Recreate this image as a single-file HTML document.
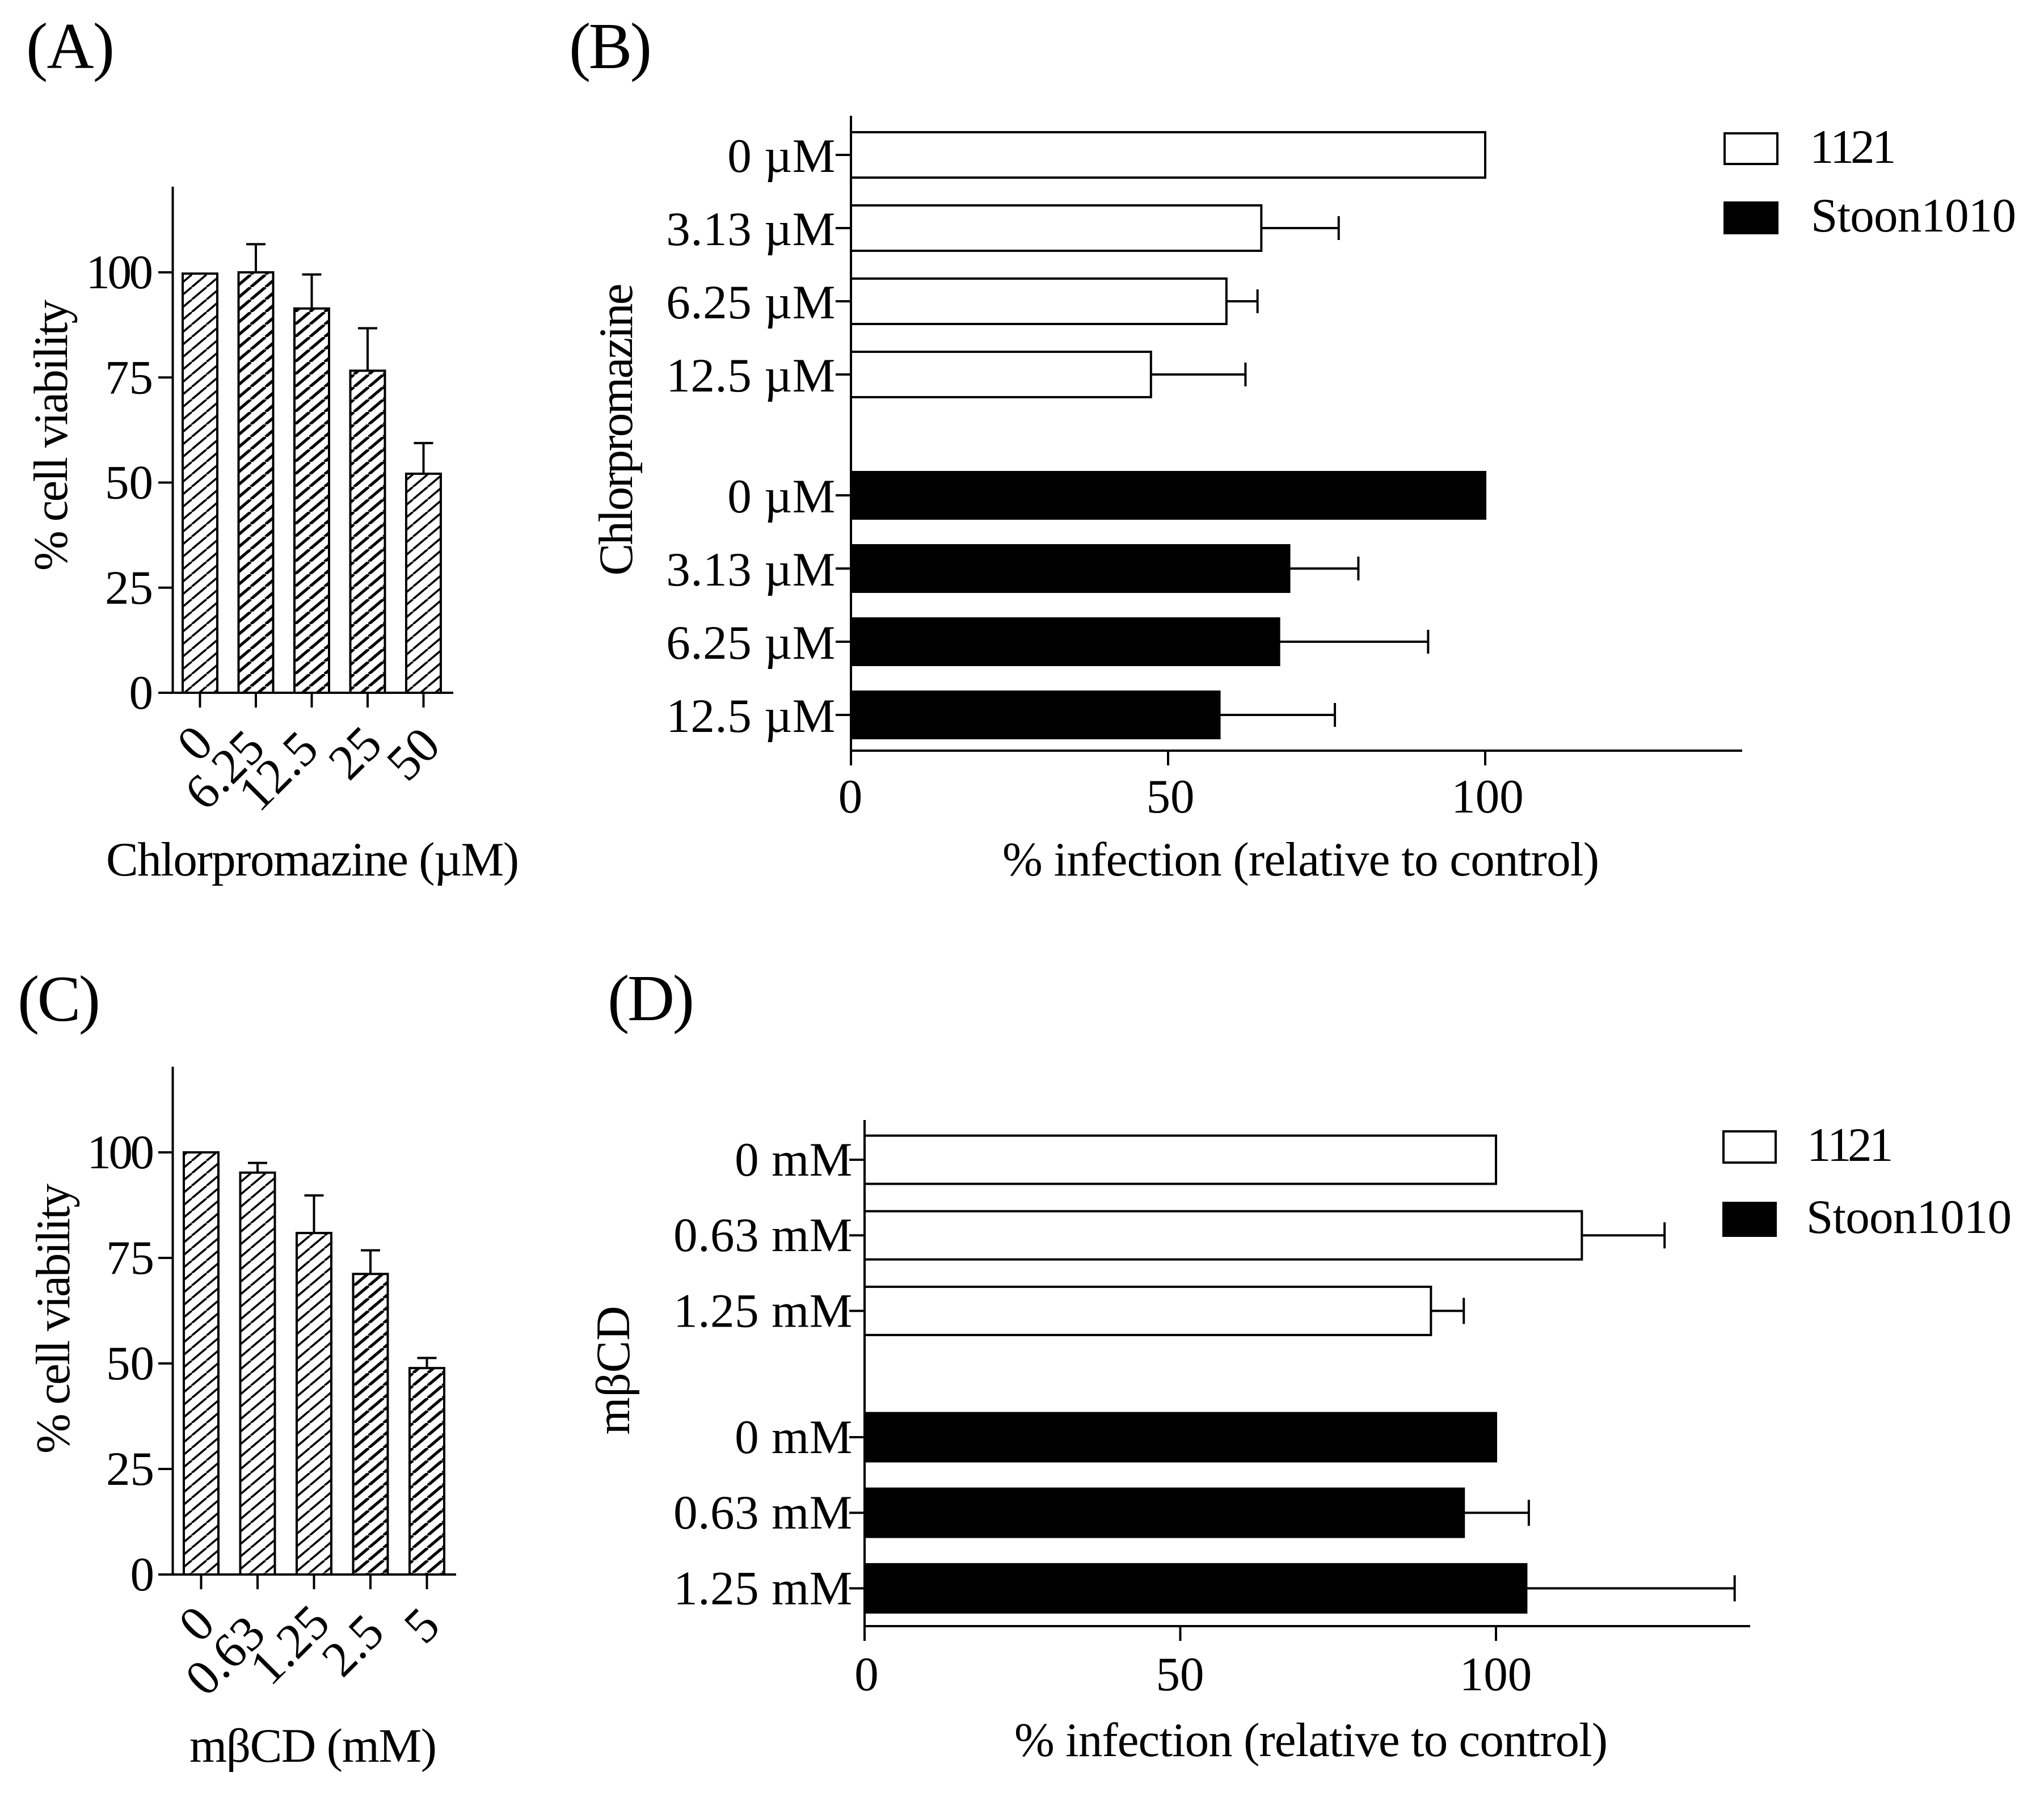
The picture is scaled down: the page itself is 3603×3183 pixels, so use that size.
<!DOCTYPE html>
<html lang="en">
<head>
<meta charset="utf-8">
<title>Cell viability and infection charts</title>
<style>
html,body{margin:0;padding:0;background:#fff;}
svg{display:block;}
text{font-family:"Liberation Serif","Noto Serif CJK SC",serif;fill:#000;font-size:85px;}
.panel-letter{font-size:115px;}
</style>
</head>
<body>
<svg id="figure" xmlns="http://www.w3.org/2000/svg" width="3603" height="3183" viewBox="0 0 3603 3183">
  <defs>
    <pattern id="hatch-thin" patternUnits="userSpaceOnUse" width="26" height="22">
      <path d="M-26 22L0 0M0 22L26 0M26 22L52 0" stroke="#000" stroke-width="3.6" fill="none"/>
    </pattern>
    <pattern id="hatch-thick" patternUnits="userSpaceOnUse" width="26" height="22">
      <path d="M-26 22L0 0M0 22L26 0M26 22L52 0" stroke="#000" stroke-width="5.2" fill="none"/>
    </pattern>
  </defs>
  <rect width="3603" height="3183" fill="#fff"/>

  <text class="panel-letter" x="46" y="120" textLength="156">(A)</text>
  <text class="panel-letter" x="1003" y="120" textLength="146">(B)</text>
  <text class="panel-letter" x="31" y="1799" textLength="146">(C)</text>
  <text class="panel-letter" x="1071" y="1798" textLength="153">(D)</text>

  <g id="panel-a"></g>
  <g id="panel-b"></g>
  <g id="panel-c"></g>
  <g id="panel-d"></g>

  <text transform="translate(118,767) rotate(-90)" text-anchor="middle" textLength="478">% cell viability</text>
  <text x="187" y="1543" textLength="728">Chlorpromazine (µM)</text>

  <text transform="translate(1114,757) rotate(-90)" text-anchor="middle" textLength="515">Chlorpromazine</text>
  <text x="1767" y="1543" textLength="1052">% infection (relative to control)</text>

  <text transform="translate(122,2324) rotate(-90)" text-anchor="middle" textLength="476">% cell viability</text>
  <text x="334" y="3105" textLength="436">mβCD (mM)</text>

  <text transform="translate(1109,2415) rotate(-90)" text-anchor="middle" textLength="227">mβCD</text>
  <text x="1788" y="3095" textLength="1046">% infection (relative to control)</text>

  <g>
    <rect x="3040" y="235" width="93" height="54" fill="#fff" stroke="#000" stroke-width="4"/>
    <text x="3190 3226 3262 3300" y="287">1121</text>
    <rect x="3040" y="357" width="93" height="54" fill="#000" stroke="#000" stroke-width="4"/>
    <text x="3192" y="408" textLength="362">Stoon1010</text>
  </g>
  <g>
    <rect x="3038" y="1994" width="92" height="55" fill="#fff" stroke="#000" stroke-width="4"/>
    <text x="3185 3221 3257 3295" y="2046">1121</text>
    <rect x="3038" y="2120" width="92" height="58" fill="#000" stroke="#000" stroke-width="4"/>
    <text x="3184" y="2173" textLength="362">Stoon1010</text>
  </g>
</svg>

<script>
/* Panel A data */
const panelACategories = ['0', '6.25', '12.5', '25', '50'];
const panelAValues = [99.7, 100, 91.4, 76.6, 52.1];
const panelAErrors = [0, 6.7, 8.1, 10.1, 7.3];
const panelAYTicks = [0, 25, 50, 75, 100];

/* Panel B data */
const panelBRowLabels = ['0 µM', '3.13 µM', '6.25 µM', '12.5 µM'];
const panelB1121Values = [100, 64.7, 59.2, 47.3];
const panelB1121Errors = [0, 12.2, 4.9, 14.9];
const panelBStoonValues = [100, 69.1, 67.5, 58.1];
const panelBStoonErrors = [0, 10.9, 23.5, 18.2];
const panelBXTicks = [0, 50, 100];

/* Panel C data */
const panelCCategories = ['0', '0.63', '1.25', '2.5', '5'];
const panelCValues = [100, 95.2, 80.9, 71.2, 48.9];
const panelCErrors = [0, 2.3, 8.9, 5.6, 2.4];
const panelCYTicks = [0, 25, 50, 75, 100];

/* Panel D data */
const panelDRowLabels = ['0 mM', '0.63 mM', '1.25 mM'];
const panelD1121Values = [100, 113.6, 89.7];
const panelD1121Errors = [0, 13.1, 5.2];
const panelDStoonValues = [100, 94.9, 104.8];
const panelDStoonErrors = [0, 10.3, 33];
const panelDXTicks = [0, 50, 100];

const SVG_NS = 'http://www.w3.org/2000/svg';

function shape(parent, tag, attrs) {
  const el = document.createElementNS(SVG_NS, tag);
  for (const key in attrs) el.setAttribute(key, attrs[key]);
  parent.appendChild(el);
  return el;
}

function strokeLine(parent, x1, y1, x2, y2) {
  return shape(parent, 'line', { x1: x1, y1: y1, x2: x2, y2: y2, stroke: '#000', 'stroke-width': 4 });
}

function drawVerticalPanel(cfg) {
  const g = document.getElementById(cfg.id);
  const yScale = function (v) { return cfg.y0 - v * cfg.yUnit; };
  const xBand = function (i) { return cfg.x0 + i * cfg.pitch; };

  cfg.values.forEach(function (value, i) {
    const top = yScale(value);
    const bar = shape(g, 'rect', {
      x: xBand(i) - 30.5, y: top, width: 61, height: cfg.y0 - top,
      fill: 'url(#' + (cfg.thickBars.includes(i) ? 'hatch-thick' : 'hatch-thin') + ')',
      stroke: '#000', 'stroke-width': 4
    });
    
    

    if (cfg.errors[i] > 0) {
      const capY = yScale(value + cfg.errors[i]);
      const stem = strokeLine(g, xBand(i), top, xBand(i), capY);
      
      
      const cap = strokeLine(g, xBand(i) - 17, capY, xBand(i) + 17, capY);
      
      
    }

    const tick = strokeLine(g, xBand(i), cfg.y0, xBand(i), cfg.y0 + 26);
    
    

    const shift = cfg.labelCenters[i];
    const label = shape(g, 'text', {
      transform: 'translate(' + (xBand(i) + shift[0]) + ',' + (cfg.y0 + shift[1]) + ') rotate(-45)',
      y: 29, 'text-anchor': 'middle', style: 'font-size:88px'
    });
    label.textContent = cfg.categories[i];
    
    
  });

  const yAxis = strokeLine(g, cfg.axisX, cfg.yTop, cfg.axisX, cfg.y0 + 2);
  
  
  const xAxis = strokeLine(g, 279, cfg.y0, cfg.xEnd, cfg.y0);
  
  

  cfg.yTicks.forEach(function (t) {
    const tick = strokeLine(g, 279, yScale(t), cfg.axisX, yScale(t));
    
    
    const tightened = String(t).length === 3 ? 4.5 : 0;
    const label = shape(g, 'text', {
      x: cfg.yLabelX - tightened, y: yScale(t) + 28, 'text-anchor': 'end', 'letter-spacing': -tightened
    });
    label.textContent = String(t);
    
    
  });
}

function drawHorizontalPanel(cfg) {
  const g = document.getElementById(cfg.id);
  const xScale = function (v) { return cfg.x0 + v * cfg.xUnit; };

  function drawGroup(values, errors, firstRow, fill, height, barName) {
    values.forEach(function (value, i) {
      const rowY = firstRow + i * cfg.pitch;
      const bar = shape(g, 'rect', {
        x: cfg.x0, y: rowY - height / 2, width: xScale(value) - cfg.x0, height: height,
        fill: fill, stroke: '#000', 'stroke-width': 4
      });
      
      

      if (errors[i] > 0) {
        const capX = xScale(value + errors[i]);
        const stem = strokeLine(g, xScale(value), rowY, capX, rowY);
        
        
        const cap = strokeLine(g, capX, rowY - cfg.capHalf, capX, rowY + cfg.capHalf);
        
        
      }

      const tick = strokeLine(g, cfg.x0 - 27, rowY, cfg.x0, rowY);
      
      

      const label = shape(g, 'text', {
        x: cfg.labelX, y: rowY + cfg.labelDrop, 'text-anchor': 'end', 'letter-spacing': 0.6
      });
      label.textContent = cfg.rowLabels[i];
      
      
    });
  }

  drawGroup(cfg.whiteValues, cfg.whiteErrors, cfg.firstWhiteRow, '#fff', cfg.whiteHeight, 'bar-1121');
  drawGroup(cfg.blackValues, cfg.blackErrors, cfg.firstBlackRow, '#000', cfg.blackHeight, 'bar-stoon1010');

  const yAxis = strokeLine(g, cfg.x0, cfg.yTop, cfg.x0, cfg.xAxisY + 26);
  
  
  const xAxis = strokeLine(g, cfg.x0, cfg.xAxisY, cfg.xEnd, cfg.xAxisY);
  
  

  cfg.xTicks.forEach(function (t) {
    const tick = strokeLine(g, xScale(t), cfg.xAxisY, xScale(t), cfg.xAxisY + 26);
    
    
    const label = shape(g, 'text', {
      x: xScale(t) + (t > 0 ? cfg.xLabelShift : cfg.xZeroShift), y: cfg.xLabelY, 'text-anchor': 'middle'
    });
    label.textContent = String(t);
    
    
  });
}

drawVerticalPanel({
  id: 'panel-a',
  categories: panelACategories, values: panelAValues, errors: panelAErrors, yTicks: panelAYTicks,
  axisX: 304.5, x0: 352.5, pitch: 98.5, y0: 1221, yUnit: 7.41, yTop: 329, xEnd: 799, yLabelX: 270,
  thickBars: [1, 2, 3],
  labelCenters: [[-9, 89], [-55, 136], [-59, 138], [-22, 106], [-18, 108]]
});

drawVerticalPanel({
  id: 'panel-c',
  categories: panelCCategories, values: panelCValues, errors: panelCErrors, yTicks: panelCYTicks,
  axisX: 304.5, x0: 354.5, pitch: 99.5, y0: 2775, yUnit: 7.44, yTop: 1880, xEnd: 804, yLabelX: 272,
  thickBars: [3, 4],
  labelCenters: [[-8, 87], [-57, 143], [-43, 124], [-31, 125], [-9, 90]]
});

drawHorizontalPanel({
  id: 'panel-b',
  rowLabels: panelBRowLabels,
  whiteValues: panelB1121Values, whiteErrors: panelB1121Errors,
  blackValues: panelBStoonValues, blackErrors: panelBStoonErrors,
  xTicks: panelBXTicks,
  x0: 1500, xUnit: 11.18, pitch: 129, firstWhiteRow: 273, firstBlackRow: 873,
  whiteHeight: 80, blackHeight: 82, capHalf: 21, labelDrop: 30,
  yTop: 204, xAxisY: 1323, xEnd: 3071, labelX: 1473, xLabelY: 1432, xLabelShift: 4, xZeroShift: -1
});

drawHorizontalPanel({
  id: 'panel-d',
  rowLabels: panelDRowLabels,
  whiteValues: panelD1121Values, whiteErrors: panelD1121Errors,
  blackValues: panelDStoonValues, blackErrors: panelDStoonErrors,
  xTicks: panelDXTicks,
  x0: 1524, xUnit: 11.13, pitch: 133.2, firstWhiteRow: 2044, firstBlackRow: 2533,
  whiteHeight: 85, blackHeight: 85, capHalf: 23, labelDrop: 28,
  yTop: 1974, xAxisY: 2866, xEnd: 3085, labelX: 1503, xLabelY: 2979, xLabelShift: -0.5, xZeroShift: 3.5
});
</script>
</body>
</html>
